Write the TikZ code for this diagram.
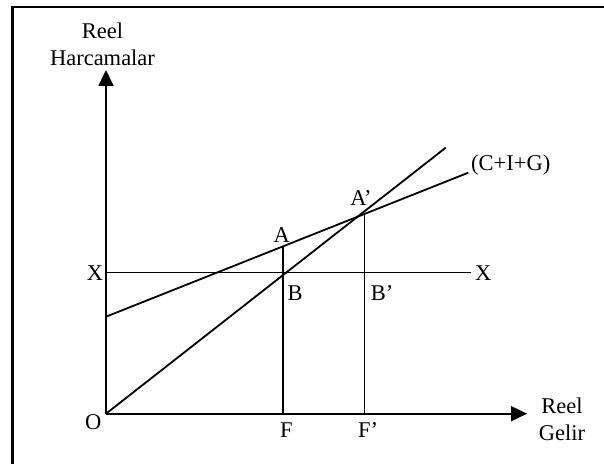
\documentclass[tikz,border=0pt]{standalone}
\usepackage{fontspec}
\setmainfont{Liberation Serif}
\usetikzlibrary{arrows.meta}
\tikzset{
  axis/.style={line width=0.9pt,-{Triangle[length=8pt,width=7.5pt]}},
  gline/.style={line width=0.9pt},
  lbl/.style={inner sep=0pt,align=center,font=\fontsize{11.25}{13.5}\selectfont}
}

\begin{document}
\begin{tikzpicture}[x=0.5pt,y=-0.5pt]
  \useasboundingbox (0,0) rectangle (604,464);
  % frame
  \draw[line width=1.3pt] (12.7,464) -- (12.7,7) -- (604,7);

  \coordinate (o) at (106,413.7);
  \coordinate (ytop) at (106,70);
  \coordinate (xend) at (527,413.7);
  \coordinate (xl) at (106,272.5);
  \coordinate (xr) at (470.7,272.5);
  \coordinate (c0) at (106,316.7);
  \coordinate (c1) at (468.3,172.7);
  \coordinate (d1) at (445.7,147.7);
  \coordinate (a) at (283,246.3);
  \coordinate (f) at (283,413.7);
  \coordinate (ap) at (364.5,213.5);
  \coordinate (fp) at (364.5,413.7);

  \draw[axis] (o) -- (ytop);
  \draw[axis] (o) -- (xend);
  \draw[gline] (xl) -- (xr);
  \draw[gline] (c0) -- (c1);
  \draw[gline] (o) -- (d1);
  \draw[gline] (f) -- (a);
  \draw[gline] (fp) -- (ap);

  \node[lbl] (ylab) at (102.5,44) {Reel\\Harcamalar};
  \node[lbl] (xlab) at (562,419) {Reel\\Gelir};
  \node[lbl] (cig) at (510.7,165) {(C+I+G)};
  \node[lbl] (xleft) at (95,273) {X};
  \node[lbl] (xright) at (483.3,273) {X};
  \node[lbl] (la) at (281.7,235) {A};
  \node[lbl] (lap) at (361,198) {A’};
  \node[lbl] (lb) at (295,293) {B};
  \node[lbl] (lbp) at (382,293) {B’};
  \node[lbl] (lo) at (93.3,421.7) {O};
  \node[lbl] (lf) at (286.5,430) {F};
  \node[lbl] (lfp) at (368,430.5) {F’};
\end{tikzpicture}
\end{document}
